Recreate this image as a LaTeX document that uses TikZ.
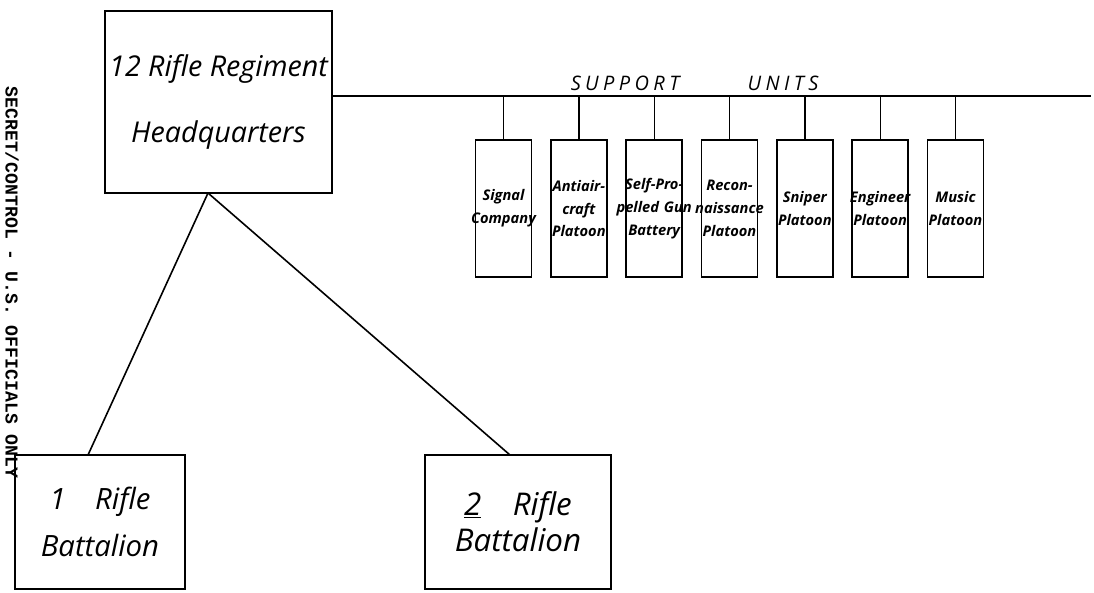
\documentclass[tikz,border=0pt]{standalone}
\usepackage{fontspec}
\usetikzlibrary{positioning,calc}
\newfontfamily\handfont{Open Sans}
\newfontfamily\spacedfont{Open Sans}[LetterSpace=22]
\newfontfamily\typefont{Liberation Mono}
\newcommand{\spill}[1]{\makebox[\linewidth][c]{#1}}
\tikzset{
  bigbox/.style={rectangle,draw,line width=1.5pt,inner sep=0pt,outer sep=0pt,align=center,font=\handfont\itshape\fontsize{21.5}{50}\selectfont},
  unitbox/.style={rectangle,draw,line width=1.3pt,inner sep=0pt,outer sep=0pt,minimum width=42pt,minimum height=102.75pt,text width=42pt,align=center,font=\handfont\bfseries\itshape\fontsize{11}{17}\selectfont},
  heading/.style={inner sep=0pt,font=\spacedfont\itshape\fontsize{15}{17}\selectfont},
  stamp/.style={inner sep=0pt,rotate=-90,font=\typefont\bfseries\fontsize{13.6}{16}\selectfont},
  link/.style={line width=1.2pt},
  drop/.style={line width=1pt}
}
\begin{document}
\begin{tikzpicture}[x=0.75pt,y=-0.75pt,node distance=14.5pt]
  \useasboundingbox (0,0) rectangle (1094,592);
  % regiment and battalions
  \node[bigbox,minimum width=170.25pt,minimum height=136.5pt] (hq) at (218.5,102) {12 Rifle Regiment\\Headquarters};
  \node[bigbox,minimum width=127.5pt,minimum height=100.5pt,font=\handfont\itshape\fontsize{22}{35}\selectfont] (bat1) at (100,522) {1\quad Rifle\\Battalion};
  \node[bigbox,minimum width=139.5pt,minimum height=100.5pt,font=\handfont\itshape\fontsize{23.5}{27}\selectfont] (bat2) at (518,522) {\underline{2}\quad Rifle\\Battalion};

  % support units
  \node[unitbox] (signal) at (503.5,208.5) {Signal\\\spill{Company}};
  \node[unitbox,right=of signal] (aa) {\spill{Antiair-}\\craft\\Platoon};
  \node[unitbox,right=of aa] (spg) {\spill{Self-Pro-}\\\spill{pelled Gun}\\Battery};
  \node[unitbox,right=of spg] (recon) {Recon-\\\spill{naissance}\\Platoon};
  \node[unitbox,right=of recon] (sniper) {Sniper\\Platoon};
  \node[unitbox,right=of sniper] (engr) {\spill{Engineer}\\Platoon};
  \node[unitbox,right=of engr] (music) {Music\\Platoon};

  \coordinate (busR) at (1091,96);
  \draw[link] (hq.east |- busR) -- (busR);
  \foreach \u in {signal,aa,spg,recon,sniper,engr,music}
    \draw[drop] (\u.north) -- (\u.north |- busR);
  \node[heading] (support) at (625,83) {SUPPORT};
  \node[heading] (units) at (783,83) {UNITS};

  \coordinate (fork) at (208,193);
  \draw[link] (fork) -- ([xshift=-9pt]bat1.north);
  \draw[link] (fork) -- ([xshift=-6pt]bat2.north);

  \node[stamp] (secret) at (12,282.5) {SECRET/CONTROL - U.S. OFFICIALS ONLY};
\end{tikzpicture}
\end{document}
